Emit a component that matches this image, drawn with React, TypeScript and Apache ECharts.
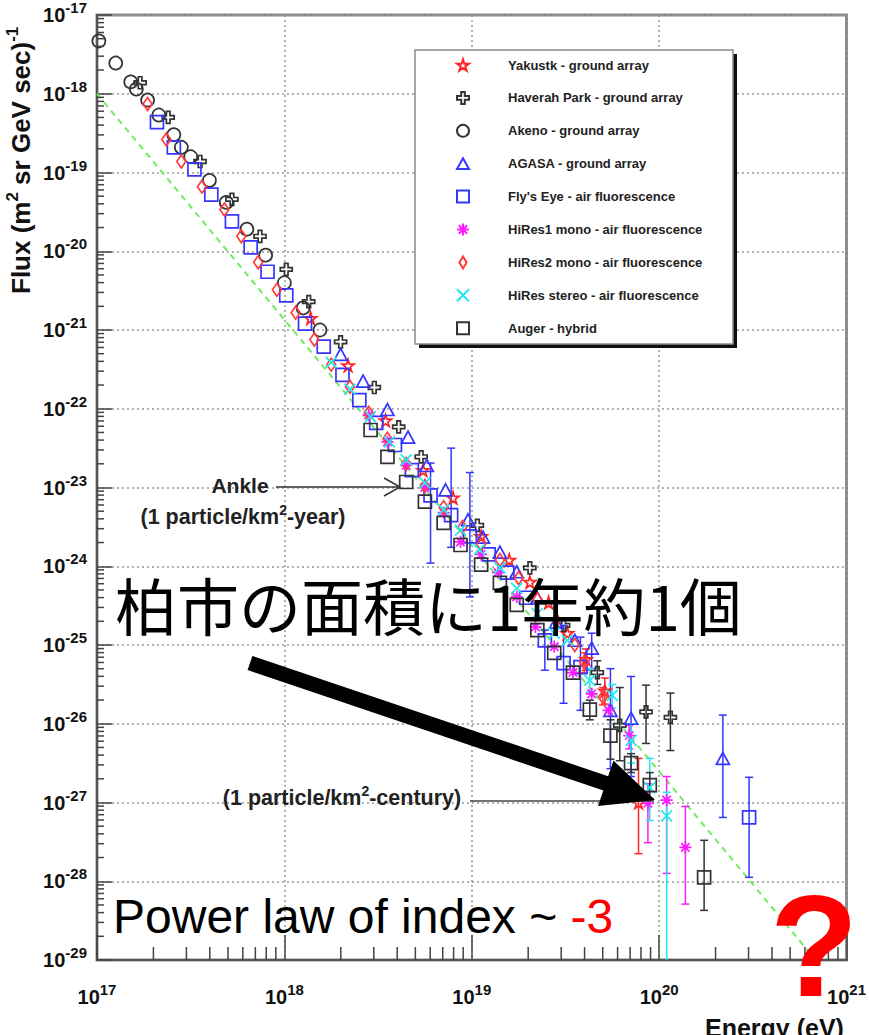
import React, { useEffect, useRef } from 'react';
import * as echarts from 'echarts';

// ---- data: [log10(E/eV), log10(Flux)] and error bars [log10(E), log10(lo), log10(hi)] ----
const akeno = [[17.01,-17.33],[17.10,-17.61],[17.18,-17.85],[17.21,-17.94],[17.27,-18.08],[17.33,-18.27],[17.41,-18.52],[17.45,-18.68],[17.50,-18.80],[17.60,-19.10],[17.69,-19.38],[17.80,-19.72],[17.90,-20.05],[18.00,-20.40],[18.10,-20.72],[18.19,-21.00]];
const haverah = [[17.23,-17.86],[17.38,-18.30],[17.55,-18.86],[17.72,-19.34],[17.87,-19.81],[18.01,-20.23],[18.13,-20.64],[18.30,-21.15],[18.48,-21.73],[18.61,-22.23],[18.73,-22.61],[19.03,-23.48],[19.31,-24.02],[19.49,-24.75],[19.67,-25.35],[19.79,-26.02],[19.93,-25.85],[20.06,-25.92]];
const haverahErr = [[19.67,-25.20,-25.50],[19.79,-25.54,-26.47],[19.93,-25.51,-26.25],[20.06,-25.61,-26.34]];
const yakutsk = [[18.14,-20.85],[18.34,-21.45],[18.54,-22.15],[18.74,-22.78],[18.90,-23.13],[19.05,-23.62],[19.20,-23.92],[19.31,-24.20],[19.41,-24.46],[19.51,-24.85],[19.61,-25.18],[19.71,-25.58],[19.89,-27.00]];
const yakutskErr = [[19.61,-25.05,-25.32],[19.71,-25.42,-25.75],[19.89,-26.44,-27.65]];
const agasa = [[18.30,-21.31],[18.42,-21.65],[18.55,-22.01],[18.66,-22.36],[18.76,-22.72],[18.86,-23.03],[18.98,-23.41],[19.06,-23.63],[19.15,-23.82],[19.24,-24.07],[19.35,-24.40],[19.45,-24.71],[19.55,-24.94],[19.64,-25.04],[19.74,-25.83],[19.85,-25.93],[20.34,-26.44]];
const agasaErr = [[19.64,-24.85,-25.30],[19.74,-25.30,-26.57],[19.85,-25.40,-26.67],[20.34,-25.89,-27.19]];
const flysEye = [[17.32,-18.36],[17.41,-18.68],[17.52,-18.96],[17.61,-19.28],[17.72,-19.62],[17.82,-19.95],[17.91,-20.26],[18.01,-20.56],[18.11,-20.92],[18.21,-21.21],[18.31,-21.57],[18.40,-21.89],[18.49,-22.18],[18.59,-22.46],[18.68,-22.78],[18.78,-23.10],[18.89,-23.35],[18.99,-23.62],[19.09,-23.85],[19.19,-24.08],[19.29,-24.40],[19.39,-24.94],[19.49,-25.23],[19.58,-25.28],[20.48,-27.19]];
const flysEyeErr = [[18.78,-22.69,-23.96],[18.89,-22.50,-23.76],[18.99,-22.81,-24.39],[19.39,-24.81,-25.32],[19.49,-24.75,-25.74],[19.58,-24.90,-25.83],[20.48,-26.68,-27.95]];
const hires1 = [[18.45,-22.08],[18.55,-22.42],[18.65,-22.72],[18.75,-23.00],[18.85,-23.32],[18.94,-23.69],[19.05,-23.85],[19.14,-24.08],[19.24,-24.39],[19.34,-24.77],[19.44,-25.02],[19.54,-25.35],[19.64,-25.62],[19.73,-25.83],[19.84,-26.15],[19.94,-27.01],[20.04,-26.97],[20.14,-27.57]];
const hires1Err = [[19.84,-26.02,-26.32],[19.94,-26.76,-27.51],[20.04,-26.67,-27.90],[20.14,-27.05,-28.29]];
const hires2 = [[17.27,-18.13],[17.37,-18.58],[17.45,-18.86],[17.56,-19.18],[17.68,-19.47],[17.77,-19.81],[17.86,-20.14],[17.96,-20.49],[18.06,-20.78],[18.16,-21.12],[18.25,-21.44],[18.35,-21.72],[18.45,-22.05],[18.55,-22.38],[18.65,-22.70],[18.75,-22.98],[18.85,-23.25],[18.95,-23.50],[19.05,-23.72],[19.15,-23.92],[19.25,-24.15],[19.35,-24.42],[19.45,-24.68],[19.55,-25.00],[19.60,-25.22],[19.70,-25.66]];
const hires2Err = [[19.60,-25.10,-25.35],[19.70,-25.54,-25.76]];
const hiresStereo = [[18.25,-21.41],[18.35,-21.75],[18.46,-22.10],[18.56,-22.42],[18.65,-22.65],[18.75,-22.94],[18.85,-23.28],[18.94,-23.54],[19.04,-23.79],[19.15,-24.02],[19.24,-24.28],[19.35,-24.60],[19.44,-24.85],[19.51,-24.94],[19.63,-25.45],[19.75,-25.64],[19.85,-26.21],[19.95,-26.81],[20.04,-27.17]];
const hiresStereoErr = [[19.63,-25.30,-25.60],[19.75,-25.50,-25.80],[19.85,-26.00,-26.50],[19.95,-26.44,-27.23],[20.04,-26.87,-29.60]];
const auger = [[18.46,-22.27],[18.55,-22.61],[18.65,-22.93],[18.75,-23.18],[18.85,-23.45],[18.94,-23.73],[19.05,-23.98],[19.15,-24.21],[19.24,-24.49],[19.35,-24.81],[19.44,-25.10],[19.54,-25.35],[19.63,-25.82],[19.74,-26.15],[19.85,-26.50],[19.95,-26.78],[20.24,-27.95]];
const augerErr = [[19.63,-25.70,-25.95],[19.74,-25.95,-26.45],[19.85,-26.38,-26.62],[19.95,-26.62,-26.95],[20.24,-27.48,-28.37]];
const powerLaw = [[17.0,-18.0],[20.8,-28.9]];

const xTickValues = [17, 18, 19, 20, 21];
const yTickValues = [-29, -28, -27, -26, -25, -24, -23, -22, -21, -20, -19, -18, -17];

const FF = '"Liberation Sans", Arial, Helvetica, sans-serif';

const SYM = {
  star: 'path://M50,0 L61,35 L98,35 L68,57 L79,91 L50,70 L21,91 L32,57 L2,35 L39,35 Z',
  cross: 'path://M35,0 L65,0 L65,35 L100,35 L100,65 L65,65 L65,100 L35,100 L35,65 L0,65 L0,35 L35,35 Z',
  asterisk: 'path://M50,0 L50,100 M0,50 L100,50 M15,15 L85,85 M85,15 L15,85',
  xmark: 'path://M0,0 L100,100 M100,0 L0,100',
  diamond: 'path://M50,0 L80,50 L50,100 L20,50 Z',
  square: 'path://M0,0 L100,0 L100,100 L0,100 Z',
  triangle: 'path://M50,0 L100,90 L0,90 Z',
};

const DATASETS: any[] = [
  { name: 'Yakustk - ground array', data: yakutsk, err: yakutskErr, color: '#ff2424', symbol: SYM.star, size: 12 },
  { name: 'Haverah Park - ground array', data: haverah, err: haverahErr, color: '#333333', symbol: SYM.cross, size: 12 },
  { name: 'Akeno - ground array', data: akeno, err: [], color: '#333333', symbol: 'circle', size: 13 },
  { name: 'AGASA - ground array', data: agasa, err: agasaErr, color: '#3535ff', symbol: SYM.triangle, size: [13, 12] },
  { name: "Fly's Eye - air fluorescence", data: flysEye, err: flysEyeErr, color: '#3535ff', symbol: SYM.square, size: 13 },
  { name: 'HiRes1 mono - air fluorescence', data: hires1, err: hires1Err, color: '#ff1aff', symbol: SYM.asterisk, size: 12 },
  { name: 'HiRes2 mono - air fluorescence', data: hires2, err: hires2Err, color: '#ff3a3a', symbol: SYM.diamond, size: [9, 13] },
  { name: 'HiRes stereo - air fluorescence', data: hiresStereo, err: hiresStereoErr, color: '#22e6f0', symbol: SYM.xmark, size: 11 },
  { name: 'Auger - hybrid', data: auger, err: augerErr, color: '#333333', symbol: SYM.square, size: 13 },
];

function buildMinorTicks() {
  const out: number[][] = [];
  for (let i = 0; i < xTickValues.length - 1; i++) {
    for (let k = 2; k <= 9; k++) out.push([xTickValues[i] + Math.log10(k), 0, 13]);
  }
  for (let i = 0; i < yTickValues.length - 1; i++) {
    for (let k = 2; k <= 9; k++) out.push([yTickValues[i] + Math.log10(k), 1, 7]);
  }
  return out;
}

function arrowPoints() {
  const S = [250, 663], T = [655, 800];
  const dx = T[0] - S[0], dy = T[1] - S[1];
  const L = Math.hypot(dx, dy);
  const ux = dx / L, uy = dy / L, nx = -uy, ny = ux;
  const B = [T[0] - ux * 52, T[1] - uy * 52];
  const sw = 7.5, hw = 24;
  return [
    [S[0] + nx * sw, S[1] + ny * sw],
    [B[0] + nx * sw, B[1] + ny * sw],
    [B[0] + nx * hw, B[1] + ny * hw],
    [T[0], T[1]],
    [B[0] - nx * hw, B[1] - ny * hw],
    [B[0] - nx * sw, B[1] - ny * sw],
    [S[0] - nx * sw, S[1] - ny * sw],
  ];
}

export default function App() {
  const ref = useRef<HTMLDivElement>(null);
  useEffect(() => {
    if (!ref.current) return;
    const chart = echarts.init(ref.current, undefined, { renderer: 'svg' });
    const labelRich = {
      b: { fontSize: 20, fontWeight: 'bold', lineHeight: 30, fontFamily: FF, color: '#111' },
      s: { fontSize: 15, fontWeight: 'bold', lineHeight: 15, verticalAlign: 'top', fontFamily: FF, color: '#111' },
    };
    const errSeries = DATASETS.filter((d) => d.err.length).map((d) => ({
      type: 'custom',
      name: d.name + ' err',
      data: d.err,
      clip: true,
      silent: true,
      z: 2,
      renderItem: (_p: any, api: any) => {
        const x = api.value(0), lo = api.value(1), hi = api.value(2);
        const a = api.coord([x, hi]);
        const b = api.coord([x, lo]);
        const c = 4;
        const st = { stroke: d.color, lineWidth: 1.5 };
        return {
          type: 'group',
          children: [
            { type: 'line', shape: { x1: a[0], y1: a[1], x2: b[0], y2: b[1] }, style: st },
            { type: 'line', shape: { x1: a[0] - c, y1: a[1], x2: a[0] + c, y2: a[1] }, style: st },
            { type: 'line', shape: { x1: b[0] - c, y1: b[1], x2: b[0] + c, y2: b[1] }, style: st },
          ],
        };
      },
    }));
    const scatterSeries = DATASETS.map((d) => ({
      type: 'scatter',
      name: d.name,
      data: d.data,
      symbol: d.symbol,
      symbolSize: d.size,
      z: 3,
      itemStyle: { color: 'rgba(255,255,255,0)', borderColor: d.color, borderWidth: 1.7, opacity: 1 },
    }));
    const option: any = {
      animation: false,
      backgroundColor: '#ffffff',
      grid: { left: 97, top: 15, right: 19, bottom: 75, show: true, borderColor: '#8a8a8a', borderWidth: 3 },
      xAxis: {
        type: 'value', min: 17, max: 21, interval: 1,
        axisLine: { show: true, onZero: false, lineStyle: { color: '#555', width: 2 } },
        axisTick: { show: true, inside: true, length: 25, lineStyle: { color: '#444', width: 1.5 } },
        axisLabel: { formatter: (v: number) => `{b|10}{s|${v}}`, margin: 22, rich: labelRich },
        splitLine: { show: true, lineStyle: { color: '#999', width: 1.5, type: [2, 3] } },
      },
      yAxis: {
        type: 'value', min: -29, max: -17, interval: 1,
        axisLine: { show: true, onZero: false, lineStyle: { color: '#555', width: 2 } },
        axisTick: { show: true, inside: true, length: 15, lineStyle: { color: '#444', width: 1.5 } },
        axisLabel: { formatter: (v: number) => `{b|10}{s|${v}}`, margin: 10, align: 'right', rich: labelRich },
        splitLine: { show: true, lineStyle: { color: '#999', width: 1.5, type: [2, 3] } },
      },
      legend: {
        data: DATASETS.map((d) => d.name),
        orient: 'vertical', left: 456, top: 58, padding: 0, align: 'left',
        itemWidth: 12, itemHeight: 12, itemGap: 18.9,
        selectedMode: false, z: 10,
        textStyle: { fontSize: 13, fontWeight: 'bold', color: '#222', fontFamily: FF, lineHeight: 14, padding: [0, 0, 0, 34] },
      },
      series: [
        {
          type: 'line', name: 'power law', data: powerLaw, symbol: 'none', silent: true, z: 1,
          lineStyle: { color: '#72ea62', width: 2, type: [6, 5] },
        },
        {
          type: 'custom', name: 'minor ticks', data: buildMinorTicks(), silent: true, z: 4,
          renderItem: (_p: any, api: any) => {
            const v = api.value(0), ax = api.value(1), len = api.value(2);
            const st = { stroke: '#444', lineWidth: 1.5 };
            if (ax === 0) {
              const pt = api.coord([v, -29]);
              return { type: 'line', shape: { x1: pt[0], y1: pt[1], x2: pt[0], y2: pt[1] - len }, style: st };
            }
            const pt = api.coord([17, v]);
            return { type: 'line', shape: { x1: pt[0], y1: pt[1], x2: pt[0] + len, y2: pt[1] }, style: st };
          },
        },
        ...errSeries,
        ...scatterSeries,
      ],
      graphic: [
        { type: 'rect', z: 5, shape: { x: 419, y: 54, width: 318, height: 294 }, style: { fill: '#111' } },
        { type: 'rect', z: 6, shape: { x: 415, y: 50, width: 318, height: 294 }, style: { fill: '#fff', stroke: '#8a8a8a', lineWidth: 1.5 } },
        {
          type: 'text', z: 50, x: 21, y: 294, rotation: Math.PI / 2,
          style: {
            text: '{t|Flux (m}{s|2}{t| sr GeV sec)}{s|-1}',
            align: 'left', verticalAlign: 'middle',
            rich: {
              t: { fontSize: 26, fontWeight: 'bold', fontFamily: FF, fill: '#111', lineHeight: 34 },
              s: { fontSize: 17, fontWeight: 'bold', fontFamily: FF, fill: '#111', lineHeight: 17, verticalAlign: 'top' },
            },
          },
        },
        { type: 'text', z: 50, x: 705, y: 1015, style: { text: 'Energy (eV)', fontSize: 25, fontWeight: 'bold', fontFamily: FF, fill: '#111', align: 'left', verticalAlign: 'top' } },
        { type: 'text', z: 50, x: 240, y: 485, style: { text: 'Ankle', fontSize: 21, fontWeight: 'bold', fontFamily: FF, fill: '#222', align: 'center', verticalAlign: 'middle' } },
        {
          type: 'text', z: 50, x: 243, y: 517,
          style: {
            text: '{t|(1 particle/km}{s|2}{t|-year)}', align: 'center', verticalAlign: 'middle',
            rich: {
              t: { fontSize: 21.5, fontWeight: 'bold', fontFamily: FF, fill: '#222', lineHeight: 28 },
              s: { fontSize: 14, fontWeight: 'bold', fontFamily: FF, fill: '#222', lineHeight: 14, verticalAlign: 'top' },
            },
          },
        },
        {
          type: 'text', z: 50, x: 342, y: 798,
          style: {
            text: '{t|(1 particle/km}{s|2}{t|-century)}', align: 'center', verticalAlign: 'middle',
            rich: {
              t: { fontSize: 21.5, fontWeight: 'bold', fontFamily: FF, fill: '#222', lineHeight: 28 },
              s: { fontSize: 14, fontWeight: 'bold', fontFamily: FF, fill: '#222', lineHeight: 14, verticalAlign: 'top' },
            },
          },
        },
        { type: 'line', z: 50, shape: { x1: 276, y1: 487, x2: 400, y2: 487 }, style: { stroke: '#333', lineWidth: 1.5 } },
        { type: 'polyline', z: 50, shape: { points: [[384, 478], [400, 487], [384, 496]] }, style: { stroke: '#333', lineWidth: 1.5, fill: 'none' } },
        { type: 'line', z: 50, shape: { x1: 470, y1: 801, x2: 654, y2: 801 }, style: { stroke: '#444', lineWidth: 1.5 } },
        { type: 'text', z: 60, x: 115, y: 604, style: { text: '柏市の面積に1年約1個', fontSize: 62, fontFamily: '"Noto Sans CJK JP", sans-serif', fill: '#000', align: 'left', verticalAlign: 'middle' } },
        { type: 'polygon', z: 60, shape: { points: arrowPoints() }, style: { fill: '#000' } },
        {
          type: 'text', z: 60, x: 113, y: 916,
          style: {
            text: '{a|Power law of index ~ }{r|-3}', align: 'left', verticalAlign: 'middle',
            rich: {
              a: { fontSize: 48, fontFamily: FF, fill: '#000' },
              r: { fontSize: 48, fontFamily: FF, fill: '#ff0000' },
            },
          },
        },
        { type: 'text', z: 60, x: 814, y: 946, style: { text: '?', fontSize: 145, fontWeight: 'bold', fontFamily: FF, fill: '#ff0000', align: 'center', verticalAlign: 'middle' } },
      ],
    };
    chart.setOption(option);
    return () => chart.dispose();
  }, []);
  return <div ref={ref} style={{ position: 'absolute', left: 0, top: 0, width: 869, height: 1035 }} />;
}
